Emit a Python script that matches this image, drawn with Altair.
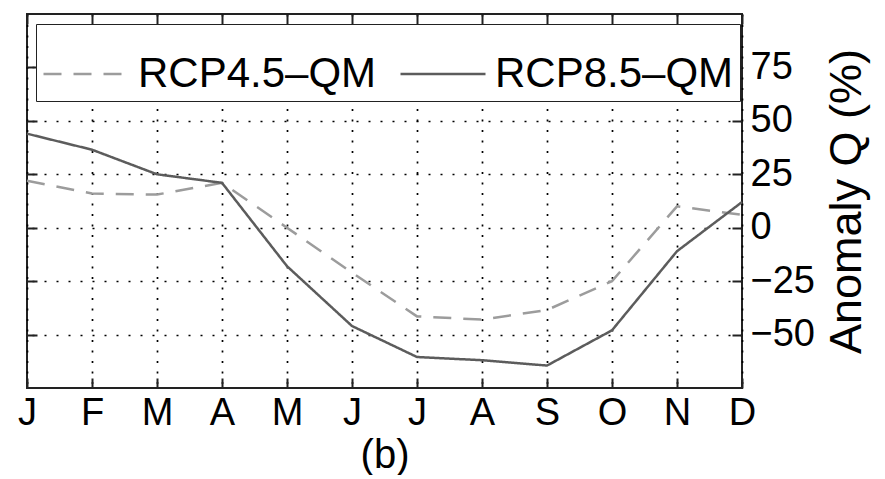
import altair as alt
import pandas as pd

months = ["Jan", "Feb", "Mar", "Apr", "May", "Jun", "Jul", "Aug", "Sep", "Oct", "Nov", "Dec"]
series = ["RCP4.5–QM", "RCP8.5–QM"]
rcp45 = [22, 16, 15.5, 21, 0, -21, -41.5, -43, -38.5, -25, 10, 6]
rcp85 = [44, 36.5, 25, 21, -18, -46, -60.5, -62, -64.5, -48, -11, 12]
y_ticks = [-50, -25, 0, 25, 50, 75]

df = pd.DataFrame({
    "month": months * 2,
    "value": rcp45 + rcp85,
    "series": [series[0]] * 12 + [series[1]] * 12,
})

FONT = "Liberation Sans"
xscale = alt.Scale(type="point", padding=0, domain=months)
yscale = alt.Scale(domain=[-75, 100], nice=False, zero=False)

leg = alt.Legend(
    title=None, orient="none", legendX=9, legendY=10, direction="horizontal",
    strokeColor="#222", fillColor="white", padding=6,
    symbolType="stroke", symbolSize=7225, symbolStrokeWidth=2.5,
    labelFont=FONT, labelFontSize=42, labelColor="black", labelOffset=8,
    columnPadding=18, labelLimit=400,
)

lines = alt.Chart(df).mark_line(strokeWidth=2.5).encode(
    x=alt.X("month:O", scale=xscale, axis=alt.Axis(
        orient="bottom", title="(b)", labelExpr="substring(datum.label,0,1)",
        labelAngle=0, ticks=False, domain=False, grid=True,
        gridDash=[2, 8.5], gridColor="black", gridWidth=1.7,
        labelFont=FONT, labelFontSize=38, labelColor="black", labelPadding=6,
        titleFont=FONT, titleFontSize=40, titleFontWeight="normal",
        titleColor="black", titlePadding=3)),
    y=alt.Y("value:Q", scale=yscale, axis=alt.Axis(
        orient="right", values=y_ticks, title="Anomaly Q (%)",
        titleAngle=270, titleBaseline="top", ticks=False, domain=False,
        grid=True, gridDash=[2, 10], gridColor="black", gridWidth=1.7,
        labelFont=FONT, labelFontSize=38, labelColor="black", labelPadding=8,
        titleFont=FONT, titleFontSize=45, titleFontWeight="normal",
        titleColor="black", titlePadding=10)),
    color=alt.Color("series:N", scale=alt.Scale(domain=series, range=["#9c9c9c", "#5c5c5c"]), legend=leg),
    strokeDash=alt.StrokeDash("series:N", scale=alt.Scale(domain=series, range=[[18, 12], [1, 0]]), legend=leg),
)

tick_axis_x = dict(offset=-10, tickSize=10, labels=False, domain=False, grid=False,
                   title=None, tickColor="#222", tickWidth=2)
tick_axis_y = dict(offset=-10, tickSize=10, labels=False, domain=False, grid=False,
                   title=None, tickColor="#222", tickWidth=2, values=y_ticks)

ticks_a = alt.Chart(df).mark_line(opacity=0).encode(
    x=alt.X("month:O", scale=xscale, axis=alt.Axis(orient="top", **tick_axis_x)),
    y=alt.Y("value:Q", scale=yscale, axis=alt.Axis(orient="left", **tick_axis_y)),
    detail="series:N",
)
ticks_b = alt.Chart(df).mark_line(opacity=0).encode(
    x=alt.X("month:O", scale=xscale, axis=alt.Axis(orient="bottom", **tick_axis_x)),
    y=alt.Y("value:Q", scale=yscale, axis=alt.Axis(orient="right", **tick_axis_y)),
    detail="series:N",
)

chart = alt.layer(lines, ticks_a, ticks_b).resolve_axis(
    x="independent", y="independent"
).properties(
    width=715, height=374,
    autosize=alt.AutoSizeParams(type="none"),
    padding={"left": 19, "top": 6, "right": 130, "bottom": 87},
    background="white",
).configure_view(stroke="#222", strokeWidth=2)

chart.save("out.html", embed_options={"renderer": "svg", "actions": False})
